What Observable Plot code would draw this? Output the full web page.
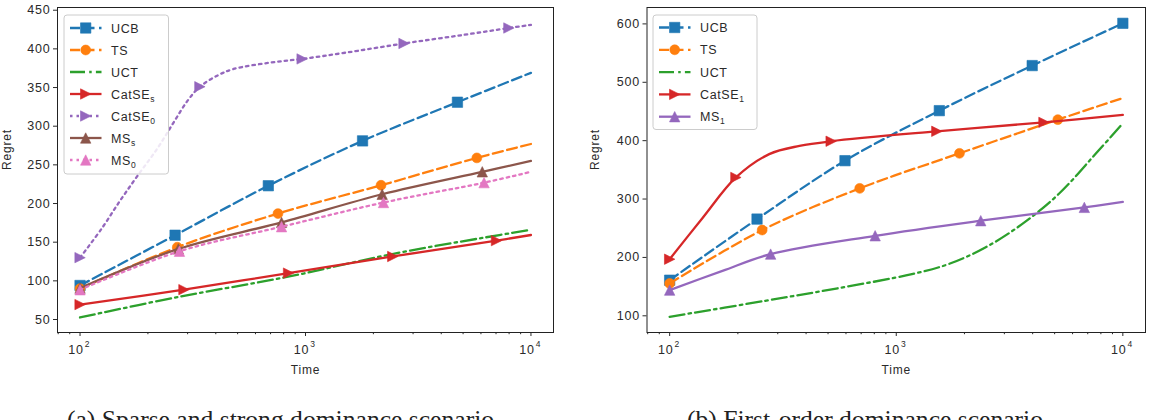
<!DOCTYPE html>
<html><head><meta charset="utf-8">
<script src="https://cdn.jsdelivr.net/npm/d3@7"></script>
<script src="https://cdn.jsdelivr.net/npm/@observablehq/plot@0.6"></script>
<style>
html,body{margin:0;padding:0;background:#fff;}
#wrap{position:relative;width:1153px;height:420px;overflow:hidden;background:#fff;}
#wrap > svg, #wrap > div{position:absolute;}
</style></head><body><div id="wrap"></div>
<script>
// ---------------- DATA ----------------
// Panel (a): Sparse and strong dominance scenario
const a_UCB_t   = [100, 264, 684, 1791, 4720, 10000];
const a_UCB_r   = [94, 159, 223, 281, 331, 369];
const a_UCB_mk  = [0, 1, 2, 3, 4];

const a_TS_t    = [100, 270, 755, 2163, 5754, 10000];
const a_TS_r    = [90, 143.5, 187, 223.6, 259, 277];
const a_TS_mk   = [0, 1, 2, 3, 4];

const a_UCT_t   = [100, 270, 826, 2455, 6083, 10000];
const a_UCT_r   = [52.6, 79, 105, 135, 155.5, 166];

const a_CSs_t   = [100, 289, 841, 2438, 7033, 10000];
const a_CSs_r   = [69.3, 88.6, 110, 131.5, 152, 159.3];
const a_CSs_mk  = [0, 1, 2, 3, 4];

const a_CS0_t   = [100, 125, 150, 180, 220, 259, 300, 340, 410, 480, 689, 966, 1500, 2735, 5000, 7980, 10000];
const a_CS0_r   = [130, 168, 203, 236, 271, 304, 333, 351, 366, 374, 382, 387, 395, 407, 418, 427, 431];
const a_CS0_mk  = [0, 7, 11, 13, 15];

const a_MSs_t   = [100, 273, 783, 2188, 6083, 10000];
const a_MSs_r   = [90.6, 141.3, 175.6, 212, 241, 255];
const a_MSs_mk  = [0, 1, 2, 3, 4];

const a_MS0_t   = [100, 276, 783, 2218, 6194, 10000];
const a_MS0_r   = [88.5, 138.3, 170, 201.3, 227, 241];
const a_MS0_mk  = [0, 1, 2, 3, 4];

// Panel (b): First-order dominance scenario
const b_UCB_t   = [100, 243, 594, 1549, 3981, 10000];
const b_UCB_r   = [161, 265.7, 365.7, 451.4, 528.6, 601];
const b_UCB_mk  = [0, 1, 2, 3, 4, 5];

const b_TS_t    = [100, 256, 690, 1901, 5164, 10000];
const b_TS_r    = [155.4, 246.9, 318.3, 378.3, 436, 473];
const b_TS_mk   = [0, 1, 2, 3, 4];

const b_UCT_t   = [100, 264, 556, 1172, 1702, 2472, 3589, 5210, 7568, 10000];
const b_UCT_r   = [98.3, 125.7, 147.4, 171.4, 188.6, 217, 257, 308.6, 377, 429.7];

const b_CS1_t   = [100, 140, 196, 275, 374, 516, 1510, 4487, 10000];
const b_CS1_r   = [197, 268, 337, 377, 391, 399, 416, 431.4, 444];
const b_CS1_mk  = [0, 2, 5, 6, 7];

const b_MS1_t   = [100, 171, 279, 807, 2360, 6761, 10000];
const b_MS1_r   = [144, 177, 205.7, 237.1, 262.9, 285.7, 295];
const b_MS1_mk  = [0, 2, 3, 4, 5];

const yTicksA = [50, 100, 150, 200, 250, 300, 350, 400, 450];
const yTicksB = [100, 200, 300, 400, 500, 600];
const xMajor  = [100, 1000, 10000];
const xMinor  = [80, 90, 200, 300, 400, 500, 600, 700, 800, 900, 2000, 3000, 4000, 5000, 6000, 7000, 8000, 9000];
const captionA = "(a) Sparse and strong dominance scenario";
const captionB = "(b) First-order dominance scenario";

// ---------------- STYLE ----------------
const FONT = "'Liberation Sans', Arial, Helvetica, sans-serif";
const DASH = {solid: null, dashed: "10,4.5", dashdot: "15,4.2,2.5,4.2", dotted: "2.5,4"};
const H = 5.2; // marker half size
const SYM = {
  square: {draw(c){ c.rect(-H, -H, 2*H, 2*H); }},
  circle: {draw(c){ const h = H*0.95; c.moveTo(h, 0); c.arc(0, 0, h, 0, 2*Math.PI); }},
  triRight: {draw(c){ c.moveTo(H, 0); c.lineTo(-H, -H); c.lineTo(-H, H); c.closePath(); }},
  triUp: {draw(c){ c.moveTo(0, -H); c.lineTo(H, H); c.lineTo(-H, H); c.closePath(); }}
};
const STYLE = {
  UCB:    {color: "#1f77b4", dash: "dashed",  sym: "square"},
  TS:     {color: "#ff7f0e", dash: "dashed",  sym: "circle"},
  UCT:    {color: "#2ca02c", dash: "dashdot", sym: null},
  CatSEs: {color: "#d62728", dash: "solid",   sym: "triRight"},
  CatSE0: {color: "#9467bd", dash: "dotted",  sym: "triRight"},
  MSs:    {color: "#8c564b", dash: "solid",   sym: "triUp"},
  MS0:    {color: "#e377c2", dash: "dotted",  sym: "triUp"},
  CatSE1: {color: "#d62728", dash: "solid",   sym: "triRight"},
  MS1:    {color: "#9467bd", dash: "solid",   sym: "triUp"}
};

const seriesA = [
  {key: "UCB", label: "UCB", sub: "", t: a_UCB_t, r: a_UCB_r, mk: a_UCB_mk},
  {key: "TS", label: "TS", sub: "", t: a_TS_t, r: a_TS_r, mk: a_TS_mk},
  {key: "UCT", label: "UCT", sub: "", t: a_UCT_t, r: a_UCT_r, mk: []},
  {key: "CatSEs", label: "CatSE", sub: "s", t: a_CSs_t, r: a_CSs_r, mk: a_CSs_mk},
  {key: "CatSE0", label: "CatSE", sub: "0", t: a_CS0_t, r: a_CS0_r, mk: a_CS0_mk},
  {key: "MSs", label: "MS", sub: "s", t: a_MSs_t, r: a_MSs_r, mk: a_MSs_mk},
  {key: "MS0", label: "MS", sub: "0", t: a_MS0_t, r: a_MS0_r, mk: a_MS0_mk}
];
const seriesB = [
  {key: "UCB", label: "UCB", sub: "", t: b_UCB_t, r: b_UCB_r, mk: b_UCB_mk},
  {key: "TS", label: "TS", sub: "", t: b_TS_t, r: b_TS_r, mk: b_TS_mk},
  {key: "UCT", label: "UCT", sub: "", t: b_UCT_t, r: b_UCT_r, mk: []},
  {key: "CatSE1", label: "CatSE", sub: "1", t: b_CS1_t, r: b_CS1_r, mk: b_CS1_mk},
  {key: "MS1", label: "MS", sub: "1", t: b_MS1_t, r: b_MS1_r, mk: b_MS1_mk}
];

const sup = {2: "2", 3: "3", 4: "4"};

function panel({series, yDomain, yTicks, width, ml, mr, regretDx}) {
  const marks = [
    Plot.axisY({ticks: yTicks, tickSize: 4, tickPadding: 3, label: null, fontSize: 12.5}),
    Plot.axisX({ticks: xMinor, tickSize: 2.2, tickFormat: () => "", label: null}),
    Plot.axisX({ticks: xMajor, tickSize: 4, tickFormat: () => "", label: null}),
    Plot.text(xMajor, {x: d => d, frameAnchor: "bottom", dy: 17, dx: -4, text: () => "10", fontSize: 12.5, lineAnchor: "middle"}),
    Plot.text(xMajor, {x: d => d, frameAnchor: "bottom", dy: 12, dx: 7.5, text: d => sup[Math.round(Math.log10(d))], fontSize: 8.5, lineAnchor: "middle"}),
    Plot.text(["Time"], {frameAnchor: "bottom", dy: 38, text: d => d, fontSize: 12, lineAnchor: "middle"}),
    Plot.text(["Regret"], {frameAnchor: "left", dx: regretDx, rotate: -90, text: d => d, fontSize: 12, lineAnchor: "middle"})
  ];
  for (const s of series) {
    const st = STYLE[s.key];
    const pts = s.t.map((t, i) => ({t, r: s.r[i]}));
    marks.push(Plot.line(pts, {x: "t", y: "r", stroke: st.color, strokeWidth: 2.3,
      strokeDasharray: DASH[st.dash], curve: "catmull-rom"}));
    if (st.sym && s.mk.length) {
      marks.push(Plot.dot(s.mk.map(i => pts[i]), {x: "t", y: "r", symbol: SYM[st.sym], r: 5,
        fill: st.color, stroke: st.color, strokeWidth: 0.6}));
    }
  }
  marks.push(Plot.frame({stroke: "#222", strokeWidth: 1}));
  return Plot.plot({
    width, height: 400, marginTop: 7, marginBottom: 68, marginLeft: ml, marginRight: mr,
    x: {type: "log", domain: [10 ** 1.9, 10 ** 4.1]},
    y: {domain: yDomain},
    style: {fontFamily: FONT, fontSize: "12px", color: "#2a2a2a", background: "transparent", overflow: "visible", letterSpacing: "0.8px"},
    marks
  });
}

function legend(svgParent, x, y, w, h, series, rowY0, rowGap) {
  const svg = d3.select(svgParent).append("svg")
    .attr("width", w + 2).attr("height", h + 2)
    .style("left", (x - 1) + "px").style("top", (y - 1) + "px");
  svg.append("rect").attr("x", 1).attr("y", 1).attr("width", w).attr("height", h)
    .attr("rx", 3).attr("fill", "white").attr("fill-opacity", 0.85).attr("stroke", "#ccc");
  series.forEach((s, i) => {
    const st = STYLE[s.key];
    const cy = 1 + rowY0 + i * rowGap;
    const g = svg.append("g");
    const ln = g.append("line").attr("x1", 7).attr("x2", 38.5).attr("y1", cy).attr("y2", cy)
      .attr("stroke", st.color).attr("stroke-width", 2.3);
    if (DASH[st.dash]) ln.attr("stroke-dasharray", DASH[st.dash]);
    if (st.sym) {
      g.append("path").attr("d", d3.symbol().type(SYM[st.sym])())
        .attr("transform", `translate(22.7,${cy})`).attr("fill", st.color)
        .attr("stroke", st.color).attr("stroke-width", 0.6);
    }
    const tx = g.append("text").attr("x", 48).attr("y", cy).attr("dy", "0.36em")
      .attr("font-family", FONT).attr("font-size", 12.5).attr("letter-spacing", "0.6px")
      .attr("fill", "#2a2a2a").text(s.label);
    if (s.sub) tx.append("tspan").attr("font-size", 8.5).attr("dy", 3).text(s.sub);
  });
}

const wrap = document.getElementById("wrap");
const pa = panel({series: seriesA, yDomain: [33.2, 453.5], yTicks: yTicksA, width: 576, ml: 57, mr: 23, regretDx: -50});
pa.style.left = "0px"; pa.style.top = "0px";
wrap.appendChild(pa);
const pb = panel({series: seriesB, yDomain: [71.4, 628.1], yTicks: yTicksB, width: 577, ml: 70.5, mr: 8, regretDx: -52});
pb.style.left = "576px"; pb.style.top = "0px";
wrap.appendChild(pb);

legend(wrap, 64, 15, 104.5, 159, seriesA, 13, 22);
legend(wrap, 653.3, 15, 104, 114.5, seriesB, 12.5, 22.3);

// captions (cut by the bottom edge as in the reference)
const cap = d3.select(wrap).append("svg").attr("width", 1153).attr("height", 440)
  .style("left", "0px").style("top", "0px");
cap.append("text").attr("x", 280.5).attr("y", 428).attr("text-anchor", "middle")
  .attr("font-family", "'Liberation Serif', 'Times New Roman', serif").attr("font-size", 25.6)
  .attr("fill", "#222").text(captionA);
cap.append("text").attr("x", 865).attr("y", 428).attr("text-anchor", "middle")
  .attr("font-family", "'Liberation Serif', 'Times New Roman', serif").attr("font-size", 25.6)
  .attr("fill", "#222").text(captionB);
</script>
</body></html>
